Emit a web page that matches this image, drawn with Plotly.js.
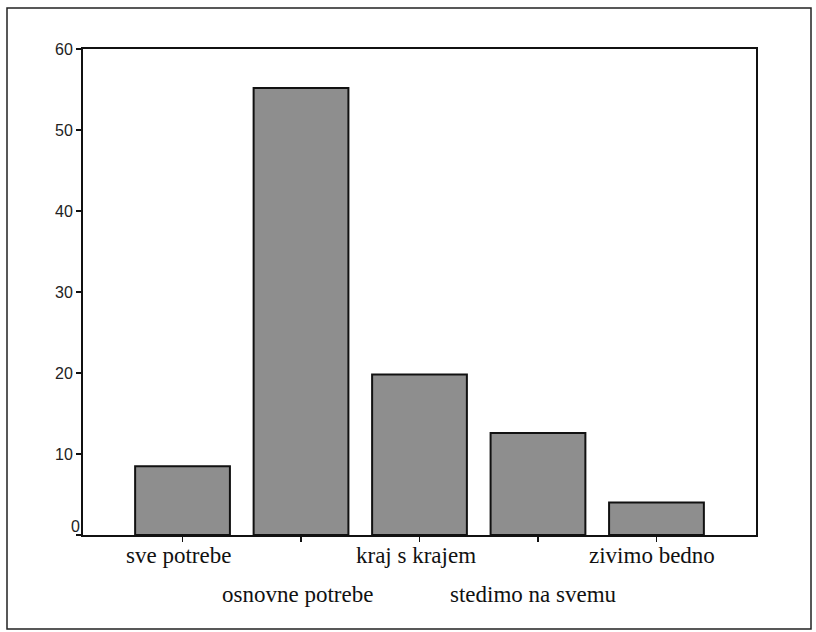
<!DOCTYPE html>
<html>
<head>
<meta charset="utf-8">
<script src="https://cdn.plot.ly/plotly-3.0.1.min.js"></script>
<style>
html,body{margin:0;padding:0;background:#fff;}
#chart{width:816px;height:632px;}
</style>
</head>
<body>
<div id="chart"></div>
<script>
// Data
var categories = ["sve potrebe", "osnovne potrebe", "kraj s krajem", "stedimo na svemu", "zivimo bedno"];
var values = [8.5, 55.2, 19.8, 12.6, 4.0];
var yTickVals = [0, 10, 20, 30, 40, 50, 60];
var yTickText = ["", "10", "20", "30", "40", "50", "60"];
var labelRow = [0, 1, 0, 1, 0]; // staggered label rows

var idx = categories.map(function(_, i){ return i; });

var trace = {
  type: 'bar',
  x: idx,
  y: values,
  width: 0.8,
  marker: {
    color: '#8e8e8e',
    line: {color: '#111', width: 2}
  },
  hoverinfo: 'none'
};

var annotations = categories.map(function(c, i){
  return {
    xref: 'x', yref: 'paper',
    x: i, y: 0,
    xanchor: 'center', yanchor: 'top',
    yshift: labelRow[i] ? -45 : -6,
    xshift: -4,
    text: c,
    showarrow: false,
    font: {family: 'Liberation Serif, Times New Roman, serif', size: 23, color: '#111'}
  };
});
// the zero label sits raised, next to the axis
annotations.push({
  xref: 'paper', yref: 'y',
  x: 0, y: yTickVals[0],
  xanchor: 'right', yanchor: 'middle',
  xshift: -1, yshift: 9,
  text: String(yTickVals[0]),
  showarrow: false,
  font: {family: 'Liberation Sans, Arial, sans-serif', size: 16, color: '#222'}
});

var W = 816, H = 632, L = 83, R = 60, T = 49, B = 97;
var pw = W - L - R, ph = H - T - B;
function px(x){ return (x - L) / pw; }
function py(y){ return (H - B - y) / ph; }

var layout = {
  width: W, height: H,
  margin: {l: L, r: R, t: T, b: B, pad: 0},
  paper_bgcolor: '#fff',
  plot_bgcolor: '#fff',
  showlegend: false,
  xaxis: {
    range: [-0.84, 4.84],
    tickmode: 'array',
    tickvals: idx,
    ticktext: categories.map(function(){ return ''; }),
    ticks: 'outside', ticklen: 5, tickwidth: 1.5, tickcolor: '#111',
    showline: true, linecolor: '#111', linewidth: 2, mirror: true,
    showgrid: false, zeroline: false, fixedrange: true
  },
  yaxis: {
    range: [0, 60],
    tickmode: 'array',
    tickvals: yTickVals,
    ticktext: yTickText,
    ticks: 'outside', ticklen: 5, tickwidth: 1.5, tickcolor: '#111',
    showline: true, linecolor: '#111', linewidth: 2, mirror: true,
    showgrid: false, zeroline: false, fixedrange: true,
    tickfont: {family: 'Liberation Sans, Arial, sans-serif', size: 16, color: '#222'}
  },
  annotations: annotations,
  shapes: [{
    type: 'rect', xref: 'paper', yref: 'paper',
    x0: px(7), x1: px(811), y0: py(629), y1: py(8),
    line: {color: '#222', width: 1.5},
    fillcolor: 'rgba(0,0,0,0)',
    layer: 'below'
  }]
};

Plotly.newPlot('chart', [trace], layout, {displayModeBar: false, staticPlot: true});
</script>
</body>
</html>
